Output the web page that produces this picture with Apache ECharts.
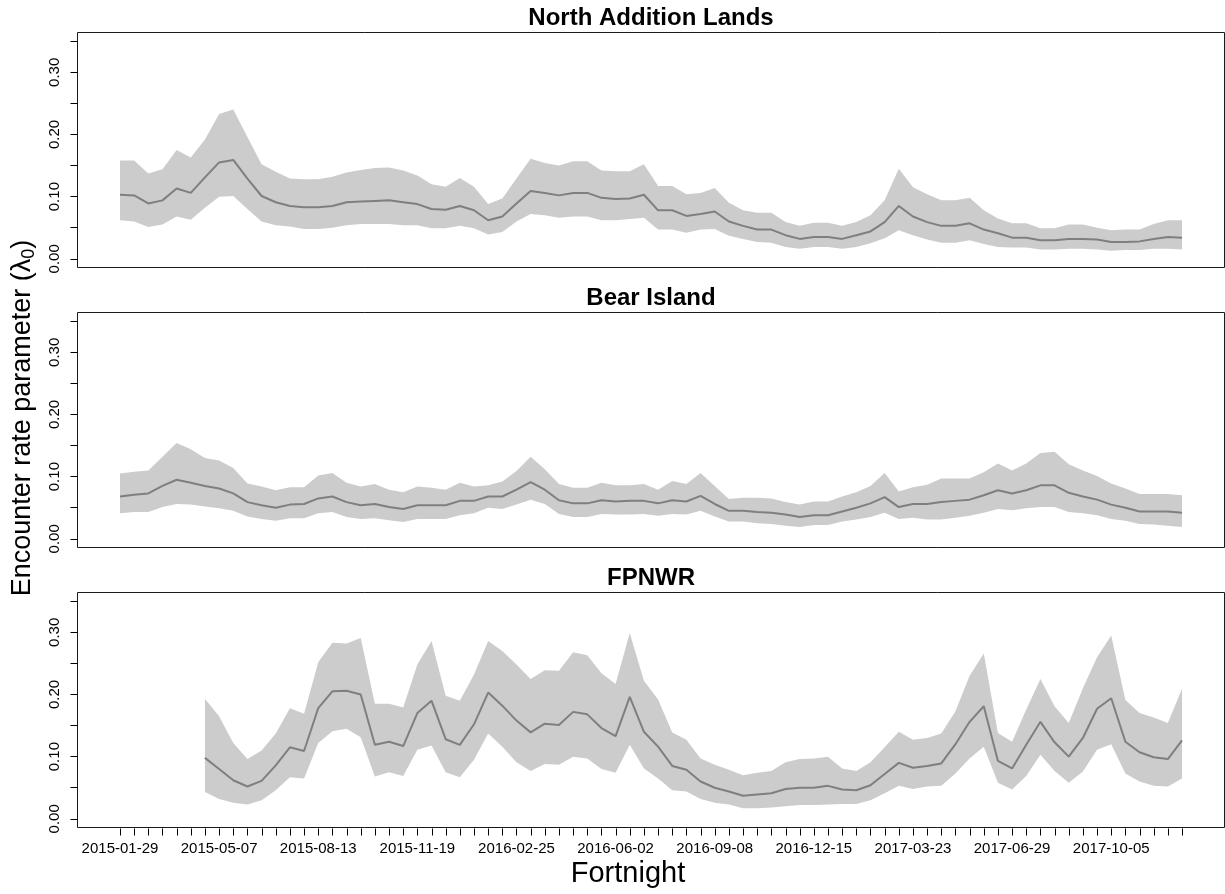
<!DOCTYPE html>
<html><head><meta charset="utf-8">
<script src="https://cdn.jsdelivr.net/npm/echarts@6/dist/echarts.min.js"></script>
<style>html,body{margin:0;padding:0;background:#fff}#c{width:1225px;height:894px}</style>
</head><body><div id="c"></div>
<script>
// ---------------- data ----------------
const fortnights = [
 '2015-01-29','2015-02-12','2015-02-26','2015-03-12','2015-03-26','2015-04-09','2015-04-23','2015-05-07','2015-05-21','2015-06-04',
 '2015-06-18','2015-07-02','2015-07-16','2015-07-30','2015-08-13','2015-08-27','2015-09-10','2015-09-24','2015-10-08','2015-10-22',
 '2015-11-05','2015-11-19','2015-12-03','2015-12-17','2015-12-31','2016-01-14','2016-01-28','2016-02-11','2016-02-25','2016-03-10',
 '2016-03-24','2016-04-07','2016-04-21','2016-05-05','2016-05-19','2016-06-02','2016-06-16','2016-06-30','2016-07-14','2016-07-28',
 '2016-08-11','2016-08-25','2016-09-08','2016-09-22','2016-10-06','2016-10-20','2016-11-03','2016-11-17','2016-12-01','2016-12-15',
 '2016-12-29','2017-01-12','2017-01-26','2017-02-09','2017-02-23','2017-03-09','2017-03-23','2017-04-06','2017-04-20','2017-05-04',
 '2017-05-18','2017-06-01','2017-06-15','2017-06-29','2017-07-13','2017-07-27','2017-08-10','2017-08-24','2017-09-07','2017-09-21',
 '2017-10-05','2017-10-19','2017-11-02','2017-11-16','2017-11-30','2017-12-14'];

const panelTitles = ['North Addition Lands', 'Bear Island', 'FPNWR'];

// North Addition Lands
const meanNAL = [.103,.102,.089,.094,.113,.106,.131,.155,.159,.129,
 .101,.091,.085,.083,.083,.085,.091,.092,.093,.094,
 .091,.088,.080,.079,.085,.078,.062,.068,.089,.109,
 .106,.102,.106,.106,.098,.096,.097,.103,.078,.078,
 .069,.072,.076,.060,.053,.047,.047,.038,.032,.035,
 .035,.032,.038,.044,.059,.085,.068,.059,.053,.053,
 .057,.047,.041,.034,.034,.030,.030,.032,.032,.031,
 .027,.027,.028,.032,.035,.034];
const upperNAL = [.158,.158,.137,.144,.175,.163,.192,.233,.240,.196,
 .152,.140,.129,.128,.128,.132,.139,.143,.146,.147,
 .142,.134,.120,.116,.130,.116,.088,.097,.129,.161,
 .154,.150,.157,.157,.142,.141,.141,.152,.117,.117,
 .104,.106,.114,.090,.078,.074,.074,.059,.053,.058,
 .058,.053,.059,.070,.094,.145,.115,.104,.094,.094,
 .098,.078,.065,.057,.057,.049,.049,.055,.055,.050,
 .046,.047,.047,.056,.062,.062];
const lowerNAL = [.062,.060,.051,.055,.068,.063,.082,.100,.101,.080,
 .060,.054,.052,.048,.048,.050,.054,.056,.056,.056,
 .054,.054,.049,.049,.053,.049,.039,.043,.060,.072,
 .070,.066,.068,.068,.062,.062,.064,.066,.047,.047,
 .042,.047,.048,.037,.032,.027,.026,.019,.016,.019,
 .019,.016,.019,.025,.033,.046,.038,.031,.026,.026,
 .030,.024,.019,.018,.018,.015,.015,.016,.016,.015,
 .013,.014,.014,.016,.016,.015];

// Bear Island
const meanBI = [.068,.071,.073,.085,.095,.090,.085,.081,.073,.059,
 .054,.050,.055,.056,.065,.068,.059,.054,.056,.051,
 .048,.054,.054,.054,.061,.061,.068,.068,.079,.091,
 .079,.062,.057,.057,.062,.060,.061,.061,.057,.062,
 .060,.069,.056,.045,.045,.043,.042,.039,.035,.038,
 .038,.044,.050,.057,.067,.051,.056,.056,.059,.061,
 .063,.070,.078,.073,.078,.086,.086,.074,.068,.063,
 .055,.050,.044,.044,.044,.042];
const upperBI = [.105,.108,.110,.132,.154,.144,.130,.126,.114,.089,
 .084,.078,.083,.083,.102,.106,.090,.084,.088,.079,
 .075,.084,.082,.079,.090,.084,.086,.092,.109,.132,
 .112,.088,.082,.082,.090,.086,.086,.088,.079,.093,
 .088,.106,.085,.064,.066,.066,.065,.059,.055,.060,
 .060,.068,.075,.085,.106,.076,.083,.087,.097,.097,
 .097,.107,.121,.110,.121,.138,.140,.120,.110,.101,
 .089,.081,.072,.072,.072,.070];
const lowerBI = [.041,.043,.043,.051,.056,.055,.052,.049,.045,.036,
 .032,.029,.033,.033,.041,.043,.035,.032,.033,.030,
 .027,.032,.032,.032,.038,.041,.050,.048,.055,.063,
 .056,.040,.035,.035,.040,.039,.039,.040,.037,.040,
 .039,.045,.036,.028,.028,.025,.024,.021,.019,.022,
 .022,.028,.031,.035,.042,.032,.034,.031,.031,.034,
 .037,.042,.048,.046,.049,.051,.051,.043,.041,.038,
 .032,.029,.024,.023,.021,.019];

// FPNWR
const meanFP = [null,null,null,null,null,null,.098,.080,.062,.052,
 .061,.086,.115,.109,.178,.205,.206,.200,.119,.124,
 .117,.170,.190,.128,.119,.152,.203,.182,.158,.139,
 .153,.151,.172,.168,.146,.133,.196,.140,.116,.085,
 .079,.060,.050,.044,.037,.039,.041,.048,.050,.050,
 .053,.047,.046,.054,.072,.090,.082,.085,.089,.120,
 .156,.181,.093,.081,.119,.156,.123,.100,.130,.177,
 .194,.124,.107,.099,.096,.126];
const upperFP = [null,null,null,null,null,null,.193,.165,.122,.096,
 .110,.137,.178,.169,.252,.283,.282,.291,.185,.185,
 .179,.248,.286,.198,.190,.232,.286,.270,.248,.225,
 .239,.238,.268,.263,.234,.217,.299,.222,.192,.139,
 .127,.097,.087,.079,.070,.074,.077,.091,.096,.097,
 .100,.081,.077,.091,.115,.140,.127,.130,.137,.173,
 .230,.266,.138,.124,.176,.225,.181,.154,.210,.260,
 .295,.191,.170,.163,.154,.209];
const lowerFP = [null,null,null,null,null,null,.043,.032,.026,.023,
 .030,.046,.067,.065,.122,.141,.145,.131,.068,.075,
 .069,.111,.118,.075,.067,.095,.137,.116,.091,.077,
 .088,.087,.100,.097,.080,.074,.119,.081,.065,.046,
 .044,.032,.026,.023,.017,.017,.018,.020,.022,.022,
 .023,.024,.024,.030,.041,.053,.048,.052,.053,.073,
 .097,.116,.058,.047,.069,.103,.077,.058,.076,.111,
 .120,.073,.060,.053,.052,.065];

const yTickLabels = ['0.00', '0.10', '0.20', '0.30'];
const xTitle = 'Fortnight';

// ---------------- layout ----------------
const FONT = '"Liberation Sans", Arial, sans-serif';
const L = 77.5, W = 1147, H = 235;
const tops = [32.5, 312.5, 592.5];
const xpad = W * 0.04 / 1.08, ypad = H * 0.04 / 1.08;
const YPAD_VAL = 0.35 * 0.04; // R-style axis padding below zero
const panels = [
  {mean: meanNAL, upper: upperNAL, lower: lowerNAL},
  {mean: meanBI, upper: upperBI, lower: lowerBI},
  {mean: meanFP, upper: upperFP, lower: lowerFP}
];
const miss = v => (v == null ? '-' : v);

const grid = [], xAxis = [], yAxis = [], series = [], graphic = [];
// outer frames
tops.forEach((t, p) => {
  grid.push({left: L, top: t, width: W, height: H, show: true, borderColor: '#1a1a1a', borderWidth: 1, backgroundColor: 'transparent'});
  xAxis.push({gridIndex: p, type: 'value', show: false, min: 0, max: 1});
  yAxis.push({gridIndex: p, type: 'value', show: false, min: 0, max: 1});
});
// inner data grids
tops.forEach((t, p) => {
  const gi = 3 + p;
  grid.push({left: L + xpad, top: t + ypad, width: W - 2 * xpad, height: H - 2 * ypad, show: false});
  xAxis.push({
    gridIndex: gi, type: 'category', data: fortnights, boundaryGap: false,
    axisLine: {show: false}, axisTick: {show: false}, axisLabel: {show: false}, splitLine: {show: false}
  });
  yAxis.push({
    gridIndex: gi, type: 'value', min: 0, max: 0.35, interval: 0.05, offset: xpad,
    axisLine: {show: false},
    axisTick: {show: true, length: 7, lineStyle: {color: '#000', width: 1}},
    axisLabel: {
      rotate: 90, margin: 15, color: '#000', fontSize: 15, fontFamily: FONT,
      formatter: v => { const k = Math.round(v * 100); return k % 10 === 0 ? yTickLabels[k / 10] : ''; }
    },
    splitLine: {show: false}
  });
  const d = panels[p];
  const band = d.upper.map((u, i) => (u == null || d.lower[i] == null) ? '-' : +(u - d.lower[i]).toFixed(4));
  series.push({
    type: 'line', xAxisIndex: gi, yAxisIndex: gi, stack: 'band' + p, data: d.lower.map(miss),
    symbol: 'none', lineStyle: {opacity: 0, width: 0}, silent: true, z: 2
  });
  series.push({
    type: 'line', xAxisIndex: gi, yAxisIndex: gi, stack: 'band' + p, data: band,
    symbol: 'none', lineStyle: {opacity: 0, width: 0}, areaStyle: {color: '#cccccc', opacity: 1}, silent: true, z: 2
  });
  series.push({
    type: 'line', xAxisIndex: gi, yAxisIndex: gi, data: d.mean.map(miss),
    symbol: 'none', lineStyle: {color: '#7f7f7f', width: 2}, silent: true, z: 3
  });
  graphic.push({
    type: 'text', x: L + W / 2, y: t - 5.5 - 0.3465 * 24,
    style: {text: panelTitles[p], fontSize: 24, fontWeight: 'bold', fontFamily: FONT, fill: '#000', align: 'center', verticalAlign: 'middle'}
  });
});

// bottom panel: date labels every 7 fortnights
grid.push({left: L + xpad, top: tops[2] + ypad, width: W - 2 * xpad, height: H - 2 * ypad, show: false});
xAxis.push({
  gridIndex: 6, type: 'category', data: fortnights, boundaryGap: false, offset: ypad,
  axisLine: {show: false}, axisTick: {show: false},
  axisLabel: {show: true, interval: 6, margin: 14, color: '#000', fontSize: 15, fontFamily: FONT, hideOverlap: false},
  splitLine: {show: false}
});
yAxis.push({gridIndex: 6, type: 'value', show: false, min: 0, max: 0.35});

// bottom panel: one tick mark per fortnight, placed through the axis scale
series.push({
  type: 'custom', xAxisIndex: 5, yAxisIndex: 5, clip: false, silent: true, z: 5,
  data: fortnights.map((f, i) => [i, -YPAD_VAL]),
  renderItem: (params, api) => {
    const pt = api.coord([api.value(0), api.value(1)]);
    const x = Math.round(pt[0]) + 0.5, y = Math.round(pt[1]) + 0.5;
    return {type: 'line', shape: {x1: x, y1: y, x2: x, y2: y + 7}, style: {stroke: '#000', lineWidth: 1}};
  }
});

graphic.push({
  type: 'text', x: 628, y: 874,
  style: {text: xTitle, fontSize: 29, fontFamily: FONT, fill: '#000', align: 'center', verticalAlign: 'middle'}
});
graphic.push({
  type: 'text', x: 23, y: 418, rotation: Math.PI / 2,
  style: {
    text: '{a|Encounter rate parameter (λ}{s|0}{a|)}', align: 'center', verticalAlign: 'middle',
    rich: {
      a: {fontSize: 27, fontFamily: FONT, fill: '#000', lineHeight: 30},
      s: {fontSize: 18, fontFamily: FONT, fill: '#000', lineHeight: 18, verticalAlign: 'bottom'}
    }
  }
});

const chart = echarts.init(document.getElementById('c'), null, {renderer: 'canvas'});
chart.setOption({animation: false, backgroundColor: '#fff', grid, xAxis, yAxis, series, graphic});
</script></body></html>
